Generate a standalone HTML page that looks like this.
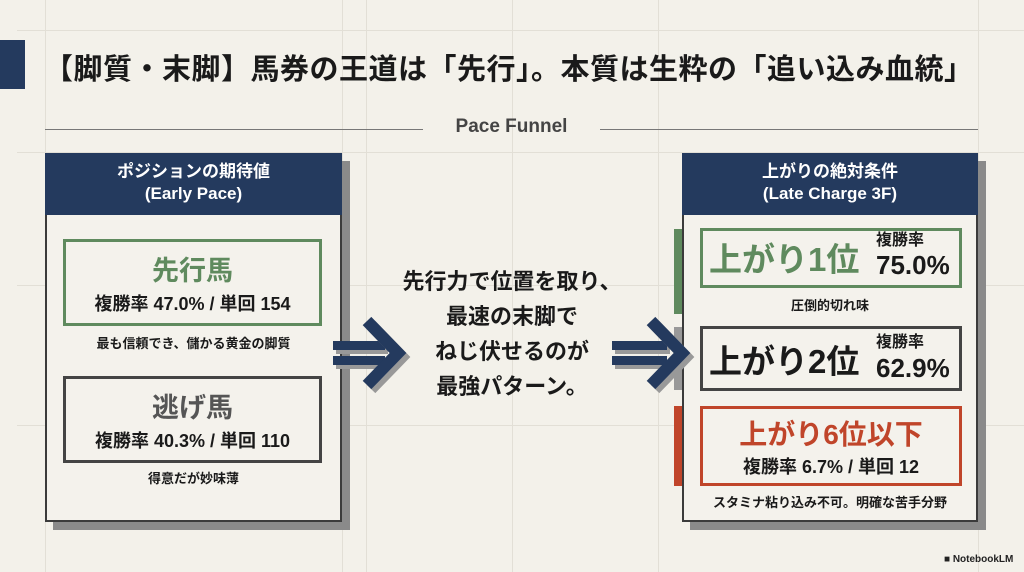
<!DOCTYPE html>
<html><head><meta charset="utf-8"><style>
*{margin:0;padding:0;box-sizing:border-box}
body{width:1024px;height:572px;background:#f3f1ea;position:relative;overflow:hidden;font-family:"Liberation Sans","Noto Sans CJK JP",sans-serif;color:#1a1a1a}
.a{position:absolute}
.gl{position:absolute;background:#e2dfd6}
.c{text-align:center;font-weight:bold;white-space:nowrap}
.panel{position:absolute;background:#f4f2ec;border:2.5px solid #3b3b3b}
.shadow{position:absolute;background:#8a8a8a}
.hdr{position:absolute;background:#243a5e;color:#fff;text-align:center;font-weight:bold;font-size:17px;line-height:22px;padding-top:8px}
.box{position:absolute;border:3px solid}
</style></head><body>
<div class="gl" style="left:17px;top:30px;width:1007px;height:1px"></div>
<div class="gl" style="left:17px;top:152px;width:1007px;height:1px"></div>
<div class="gl" style="left:17px;top:285px;width:1007px;height:1px"></div>
<div class="gl" style="left:17px;top:425px;width:1007px;height:1px"></div>
<div class="gl" style="left:45px;top:0;width:1px;height:572px"></div>
<div class="gl" style="left:342px;top:0;width:1px;height:572px"></div>
<div class="gl" style="left:366px;top:0;width:1px;height:572px"></div>
<div class="gl" style="left:512px;top:0;width:1px;height:572px"></div>
<div class="gl" style="left:658px;top:0;width:1px;height:572px"></div>
<div class="gl" style="left:978px;top:0;width:1px;height:572px"></div>

<div class="a" style="left:0;top:40px;width:25px;height:49px;background:#243a5e"></div>
<div class="a" style="left:44px;top:46px;font-size:29px;font-weight:bold;white-space:nowrap;letter-spacing:0.5px">【脚質・末脚】馬券の王道は「先行」。本質は生粋の「追い込み血統」</div>

<div class="a" style="left:45px;top:129px;width:378px;height:1px;background:#777"></div>
<div class="a" style="left:600px;top:129px;width:378px;height:1px;background:#777"></div>
<div class="a c" style="left:423px;top:116px;width:177px;font-size:19px;color:#444">Pace Funnel</div>

<div class="shadow" style="left:53px;top:161px;width:297px;height:369px"></div>
<div class="panel" style="left:45px;top:153px;width:297px;height:369px"></div>
<div class="hdr" style="left:45px;top:153px;width:297px;height:62px">ポジションの期待値<br>(Early Pace)</div>
<div class="box" style="left:63px;top:239px;width:259px;height:87px;border-color:#5f8a5e"></div>
<div class="a c" style="left:63px;top:249px;width:259px;font-size:27px;color:#5f8a5e">先行馬</div>
<div class="a c" style="left:63px;top:290px;width:259px;font-size:18px">複勝率 47.0% / 単回 154</div>
<div class="a c" style="left:45px;top:333px;width:297px;font-size:13px">最も信頼でき、儲かる黄金の脚質</div>
<div class="box" style="left:63px;top:376px;width:259px;height:87px;border-color:#444"></div>
<div class="a c" style="left:63px;top:386px;width:259px;font-size:27px;color:#555">逃げ馬</div>
<div class="a c" style="left:63px;top:427px;width:259px;font-size:18px">複勝率 40.3% / 単回 110</div>
<div class="a c" style="left:45px;top:468px;width:297px;font-size:13px">得意だが妙味薄</div>

<div class="a c" style="left:380px;top:264px;width:264px;font-size:22px;line-height:35px">先行力で位置を取り、<br>最速の末脚で<br>ねじ伏せるのが<br>最強パターン。</div>

<svg class="a" style="left:0;top:0" width="1024" height="572">
<rect x="336" y="345" width="52" height="9" fill="#999"/>
<rect x="336" y="360" width="52" height="9" fill="#999"/>
<rect x="333" y="341" width="52" height="9" fill="#243a5e"/>
<rect x="333" y="356" width="52" height="9" fill="#243a5e"/>
<polyline points="371,325 402,357 371,389" fill="none" stroke="#999" stroke-width="12"/>
<polyline points="367,321 398,353 367,385" fill="none" stroke="#243a5e" stroke-width="12"/>
</svg>

<div class="a" style="left:674px;top:229px;width:9px;height:85px;background:#5f8a5e"></div>
<div class="a" style="left:674px;top:327px;width:9px;height:63px;background:#999"></div>
<div class="a" style="left:674px;top:406px;width:9px;height:80px;background:#c0452a"></div>
<div class="shadow" style="left:690px;top:161px;width:296px;height:369px"></div>
<div class="panel" style="left:682px;top:153px;width:296px;height:369px"></div>
<div class="hdr" style="left:682px;top:153px;width:296px;height:62px">上がりの絶対条件<br>(Late Charge 3F)</div>

<svg class="a" style="left:0;top:0" width="1024" height="572">
<rect x="615" y="345" width="55" height="9" fill="#999"/>
<rect x="615" y="360" width="55" height="9" fill="#999"/>
<rect x="612" y="341" width="55" height="9" fill="#243a5e"/>
<rect x="612" y="356" width="55" height="9" fill="#243a5e"/>
<polyline points="655,325 686,357 655,389" fill="none" stroke="#999" stroke-width="12"/>
<polyline points="651,321 682,353 651,385" fill="none" stroke="#243a5e" stroke-width="12"/>
</svg>

<div class="box" style="left:700px;top:228px;width:262px;height:60px;border-color:#5f8a5e"></div>
<div class="a" style="left:709px;top:233px;font-size:33px;font-weight:bold;color:#5f8a5e;white-space:nowrap">上がり1位</div>
<div class="a" style="left:876px;top:232px;font-size:16px;font-weight:bold;line-height:18px">複勝率</div>
<div class="a" style="left:876px;top:250px;font-size:26px;font-weight:bold;line-height:30px">75.0%</div>
<div class="a c" style="left:682px;top:295px;width:296px;font-size:13px">圧倒的切れ味</div>
<div class="box" style="left:700px;top:326px;width:262px;height:65px;border-color:#444"></div>
<div class="a" style="left:709px;top:335px;font-size:33px;font-weight:bold;white-space:nowrap">上がり2位</div>
<div class="a" style="left:876px;top:334px;font-size:16px;font-weight:bold;line-height:18px">複勝率</div>
<div class="a" style="left:876px;top:353px;font-size:26px;font-weight:bold;line-height:30px">62.9%</div>
<div class="box" style="left:700px;top:406px;width:262px;height:80px;border-color:#c0452a"></div>
<div class="a c" style="left:700px;top:413px;width:262px;font-size:28px;color:#c0452a">上がり6位以下</div>
<div class="a c" style="left:700px;top:453px;width:262px;font-size:18px">複勝率 6.7% / 単回 12</div>
<div class="a c" style="left:682px;top:492px;width:296px;font-size:13px">スタミナ粘り込み不可。明確な苦手分野</div>

<div class="a" style="left:944px;top:554px;font-size:10px;font-weight:bold;color:#222">■ NotebookLM</div>
</body></html>
